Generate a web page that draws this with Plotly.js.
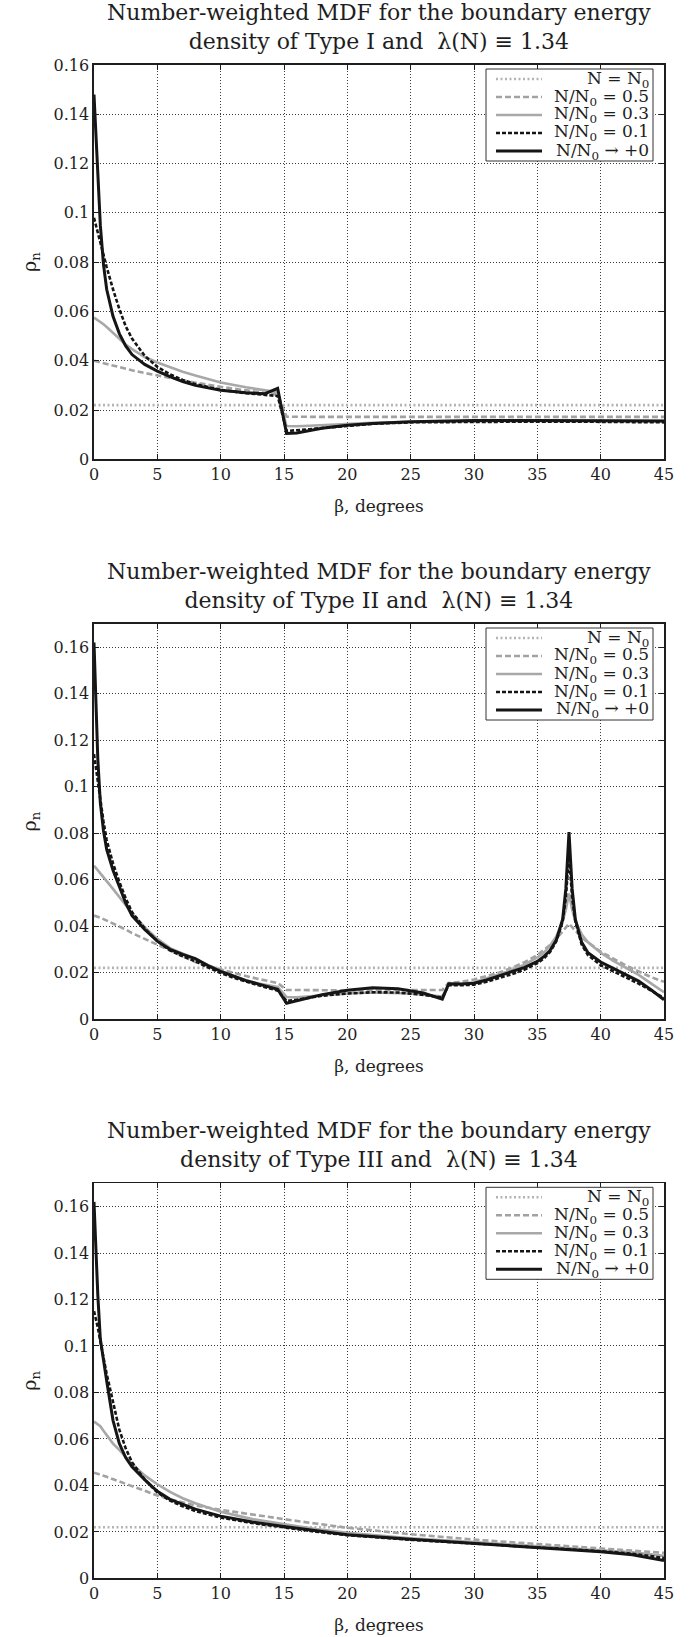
<!DOCTYPE html>
<html>
<head>
<meta charset="utf-8">
<script src="https://cdn.plot.ly/plotly-3.0.1.min.js"></script>
<style>
  html, body { margin: 0; padding: 0; background: #fff; }
  #chart { width: 692px; height: 1637px; }
</style>
</head>
<body>
<div id="chart"></div>
<script>
// Misorientation distribution functions, three boundary energy types

const seriesNames = ['N = N<sub>0</sub>', 'N/N<sub>0</sub> = 0.5', 'N/N<sub>0</sub> = 0.3',
                     'N/N<sub>0</sub> = 0.1', 'N/N<sub>0</sub> \u2192 +0'];
const panelTypes = ['I', 'II', 'III'];
const lambdaValue = '1.34';
const xTicks = [0, 5, 10, 15, 20, 25, 30, 35, 40, 45];
const yTicks = [0, 0.02, 0.04, 0.06, 0.08, 0.1, 0.12, 0.14, 0.16];
const yTickText = ['0', '0.02', '0.04', '0.06', '0.08', '0.1', '0.12', '0.14', '0.16'];
const yMax = [0.16, 0.17, 0.17];

// uniform distribution N = N0
const uniformBeta = [0, 45];
const uniformRho = [0.022, 0.022];

// Type I
const beta1 = [0, 0.15, 0.3, 0.5, 0.75, 1, 1.5, 2, 2.5, 3, 4, 5, 6, 7, 8, 10, 12, 13.5, 14.5, 15.2,
               16, 17, 18, 20, 22, 25, 30, 35, 40, 45];
const typeI_r05 = [0.040, 0.0398, 0.0396, 0.0394, 0.039, 0.0387, 0.038, 0.0374, 0.0367, 0.0361, 0.035, 0.034,
                   0.033, 0.032, 0.0311, 0.0294, 0.0279, 0.0268, 0.0262, 0.0173,
                   0.0172, 0.0172, 0.0172, 0.0172, 0.0172, 0.0172, 0.0172, 0.0172, 0.0172, 0.0172];
const typeI_r03 = [0.0575, 0.057, 0.0565, 0.0558, 0.0548, 0.0537, 0.0513, 0.0488, 0.0466, 0.0447, 0.0415, 0.0393,
                   0.0373, 0.0355, 0.034, 0.0312, 0.0292, 0.028, 0.0272, 0.0135,
                   0.0134, 0.0136, 0.0139, 0.0144, 0.0148, 0.0152, 0.0155, 0.0156, 0.0156, 0.0155];
const typeI_r01 = [0.098, 0.095, 0.091, 0.087, 0.083, 0.078, 0.069, 0.061, 0.054, 0.049, 0.042, 0.0375,
                   0.0345, 0.0322, 0.0305, 0.0282, 0.0268, 0.026, 0.0257, 0.0115,
                   0.0117, 0.0122, 0.0127, 0.0137, 0.0144, 0.015, 0.0153, 0.0153, 0.0152, 0.015];
const typeI_r00 = [0.148, 0.132, 0.117, 0.095, 0.079, 0.069, 0.058, 0.051, 0.046, 0.0425, 0.0385, 0.0358,
                   0.0335, 0.0315, 0.030, 0.028, 0.027, 0.0266, 0.0288, 0.0105,
                   0.0107, 0.0118, 0.0126, 0.0138, 0.0145, 0.0152, 0.0157, 0.0157, 0.0156, 0.0155];

// Type II
const beta2 = [0, 0.15, 0.3, 0.5, 0.75, 1, 1.5, 2, 2.5, 3, 4, 5, 6, 7, 8, 9, 10, 11, 12, 13, 14.5, 15.2,
               16, 17, 18, 20, 22, 24, 25, 26, 27.5, 28, 29, 30, 31, 32, 33, 34, 35, 35.5, 36, 36.5, 37,
               37.25, 37.5, 37.75, 38, 38.5, 39, 40, 41, 42, 43, 44, 45];
const typeII_r05 = [0.0445, 0.0443, 0.044, 0.0436, 0.043, 0.0424, 0.0412, 0.040, 0.0385, 0.037, 0.0345, 0.032,
                    0.0292, 0.0267, 0.0245, 0.0228, 0.0213, 0.0198, 0.0185, 0.0172, 0.0155, 0.0125,
                    0.0124, 0.0124, 0.0124, 0.0124, 0.0125, 0.0125, 0.0125, 0.0125, 0.0125, 0.0155, 0.016, 0.017,
                    0.0185, 0.020, 0.022, 0.0245, 0.0275, 0.0295, 0.0318, 0.0345, 0.038,
                    0.0395, 0.041, 0.0395, 0.038, 0.035, 0.033, 0.029, 0.026, 0.023, 0.0205, 0.018, 0.016];
const typeII_r03 = [0.066, 0.065, 0.064, 0.063, 0.0612, 0.0595, 0.056, 0.0525, 0.049, 0.0455, 0.0395, 0.0345,
                    0.0305, 0.0283, 0.0258, 0.0232, 0.0207, 0.0185, 0.0167, 0.0153, 0.0138, 0.0095,
                    0.0093, 0.0097, 0.0102, 0.011, 0.0114, 0.0113, 0.011, 0.0105, 0.0097, 0.015, 0.015, 0.0158,
                    0.0175, 0.0192, 0.021, 0.0235, 0.0265, 0.0285, 0.0315, 0.0355, 0.042,
                    0.047, 0.054, 0.047, 0.042, 0.0365, 0.033, 0.0285, 0.025, 0.022, 0.019, 0.0152, 0.0115];
const typeII_r01 = [0.114, 0.108, 0.101, 0.094, 0.085, 0.077, 0.067, 0.059, 0.052, 0.046, 0.039, 0.0335,
                    0.0295, 0.027, 0.0248, 0.0222, 0.0198, 0.0178, 0.016, 0.0145, 0.0122, 0.0078,
                    0.0083, 0.0092, 0.010, 0.011, 0.0115, 0.0114, 0.011, 0.0104, 0.0092, 0.0145, 0.0145, 0.0148,
                    0.016, 0.0176, 0.0193, 0.0213, 0.024, 0.026, 0.0288, 0.0335, 0.042,
                    0.052, 0.071, 0.052, 0.042, 0.032, 0.0275, 0.0232, 0.0205, 0.018, 0.0152, 0.0122, 0.009];
const typeII_r00 = [0.162, 0.135, 0.112, 0.093, 0.081, 0.073, 0.064, 0.057, 0.050, 0.0445, 0.0385, 0.0335,
                    0.030, 0.0278, 0.026, 0.023, 0.0205, 0.0185, 0.0165, 0.015, 0.0128, 0.0068,
                    0.0078, 0.0092, 0.0105, 0.0124, 0.0134, 0.013, 0.0122, 0.0112, 0.0085, 0.0152, 0.0151, 0.0154,
                    0.0168, 0.0185, 0.0202, 0.0222, 0.0248, 0.0268, 0.0295, 0.034, 0.043,
                    0.056, 0.0805, 0.056, 0.043, 0.033, 0.0285, 0.0245, 0.0218, 0.0192, 0.0163, 0.0125, 0.0083];

// Type III
const beta3 = [0, 0.15, 0.3, 0.5, 0.75, 1, 1.5, 2, 2.5, 3, 4, 5, 6, 7, 8, 10, 12.5, 15, 17.5, 20,
               25, 30, 35, 40, 42.5, 45];
const typeIII_r05 = [0.0455, 0.0453, 0.045, 0.0447, 0.0442, 0.0437, 0.0427, 0.0416, 0.0405, 0.0394, 0.0375, 0.0357,
                     0.034, 0.0326, 0.0314, 0.0295, 0.0274, 0.0255, 0.0236, 0.0218,
                     0.019, 0.0167, 0.0148, 0.013, 0.012, 0.011];
const typeIII_r03 = [0.0675, 0.067, 0.0665, 0.0655, 0.0635, 0.0615, 0.058, 0.0553, 0.0522, 0.0492, 0.0443, 0.0405,
                     0.0372, 0.0345, 0.0323, 0.0287, 0.0255, 0.0232, 0.0212, 0.0196,
                     0.0173, 0.0156, 0.0139, 0.0122, 0.0112, 0.0097];
const typeIII_r01 = [0.115, 0.112, 0.108, 0.102, 0.095, 0.088, 0.076, 0.064, 0.056, 0.050, 0.0425, 0.037,
                     0.0335, 0.031, 0.029, 0.0262, 0.0238, 0.0219, 0.0201, 0.0186,
                     0.0166, 0.015, 0.0134, 0.0117, 0.0106, 0.0088];
const typeIII_r00 = [0.162, 0.138, 0.122, 0.103, 0.093, 0.085, 0.068, 0.058, 0.052, 0.048, 0.0425, 0.0375,
                     0.034, 0.0318, 0.0298, 0.0268, 0.0243, 0.0223, 0.0204, 0.0188,
                     0.0168, 0.0151, 0.0134, 0.0115, 0.0102, 0.0077];

const panelData = [
  { beta: beta1, curves: [typeI_r05, typeI_r03, typeI_r01, typeI_r00] },
  { beta: beta2, curves: [typeII_r05, typeII_r03, typeII_r01, typeII_r00] },
  { beta: beta3, curves: [typeIII_r05, typeIII_r03, typeIII_r01, typeIII_r00] }
];

// ---- styling ----
const W = 692, H = 1637;
const FONT = 'DejaVu Serif, Liberation Serif, serif';
const INK = '#1e1e1e';
const lineStyles = [
  { color: '#b4b4b4', width: 2.6, dash: '2px,2.5px' },
  { color: '#a2a2a2', width: 2.6, dash: '6px,3px' },
  { color: '#a8a8a8', width: 2.6, dash: 'solid' },
  { color: '#151515', width: 2.6, dash: '4px,2px' },
  { color: '#151515', width: 3.0, dash: 'solid' }
];
const plotLeft = 94, plotRight = 664;
const panelBox = [ { top: 65, bottom: 459.3 }, { top: 624, bottom: 1019 }, { top: 1183.3, bottom: 1578.4 } ];

const px = x => x / W;
const py = y => 1 - y / H;

const traces = [];
const shapes = [];
const annotations = [];
const layout = {
  width: W, height: H,
  margin: { l: 0, r: 0, t: 0, b: 0 },
  paper_bgcolor: '#fff', plot_bgcolor: '#fff',
  showlegend: false,
  font: { family: FONT, color: INK }
};

panelBox.forEach((box, i) => {
  const n = i === 0 ? '' : String(i + 1);
  const xa = 'x' + n, ya = 'y' + n;
  const d = panelData[i];

  traces.push({
    x: uniformBeta, y: uniformRho, xaxis: xa, yaxis: ya, mode: 'lines',
    line: lineStyles[0], hoverinfo: 'skip'
  });
  d.curves.forEach((vals, k) => {
    traces.push({
      x: d.beta, y: vals, xaxis: xa, yaxis: ya, mode: 'lines',
      line: lineStyles[k + 1], hoverinfo: 'skip'
    });
  });

  layout['xaxis' + n] = {
    domain: [px(plotLeft), px(plotRight)], anchor: ya, range: [0, 45],
    tickmode: 'array', tickvals: xTicks, ticktext: xTicks.map(String),
    ticks: 'inside', ticklen: 5, tickwidth: 1, tickcolor: INK,
    showline: true, linecolor: INK, linewidth: 1.6, mirror: 'ticks',
    showgrid: true, gridcolor: '#3a3a3a', gridwidth: 1, griddash: '1px,2px',
    zeroline: false,
    tickfont: { family: FONT, size: 16, color: INK },
    title: { text: '\u03B2, degrees', font: { family: FONT, size: 17, color: INK }, standoff: 17 }
  };
  layout['yaxis' + n] = {
    domain: [py(box.bottom), py(box.top)], anchor: xa, range: [0, yMax[i]],
    tickmode: 'array', tickvals: yTicks, ticktext: yTickText,
    ticks: 'inside', ticklen: 5, tickwidth: 1, tickcolor: INK,
    showline: true, linecolor: INK, linewidth: 1.6, mirror: 'ticks',
    showgrid: true, gridcolor: '#3a3a3a', gridwidth: 1, griddash: '1px,2px',
    zeroline: false,
    tickfont: { family: FONT, size: 16, color: INK },
    title: { text: '\u03C1<sub>n</sub>', font: { family: FONT, size: 19, color: INK }, standoff: 12 }
  };

  // panel heading
  annotations.push({
    xref: 'paper', yref: 'paper',
    x: px((plotLeft + plotRight) / 2), y: py(box.top - 9),
    xanchor: 'center', yanchor: 'bottom', showarrow: false, align: 'center',
    text: 'Number-weighted MDF for the boundary energy<br>density of Type ' + panelTypes[i] +
          ' and  \u03BB(N) \u2261 ' + lambdaValue,
    font: { family: FONT, size: 22, color: INK }
  });

  // key box
  const boxL = 486, boxR = 653, boxT = box.top + 4, rowH = 18;
  const boxB = boxT + rowH * 5 + 2;
  shapes.push({
    type: 'rect', xref: 'paper', yref: 'paper', layer: 'above',
    x0: px(boxL), x1: px(boxR), y0: py(boxB), y1: py(boxT),
    fillcolor: '#fff', line: { color: '#333', width: 1 }
  });
  seriesNames.forEach((name, k) => {
    const yc = boxT + 10 + rowH * k;
    const st = lineStyles[k];
    shapes.push({
      type: 'line', xref: 'paper', yref: 'paper', layer: 'above',
      x0: px(496), x1: px(542), y0: py(yc), y1: py(yc),
      line: { color: st.color, width: st.width, dash: st.dash }
    });
    annotations.push({
      xref: 'paper', yref: 'paper', x: px(651), y: py(yc),
      xanchor: 'right', yanchor: 'middle', showarrow: false,
      text: name, font: { family: FONT, size: 17, color: INK }
    });
  });
});

layout.shapes = shapes;
layout.annotations = annotations;

Plotly.newPlot('chart', traces, layout, { staticPlot: true, displayModeBar: false });
</script>
</body>
</html>
